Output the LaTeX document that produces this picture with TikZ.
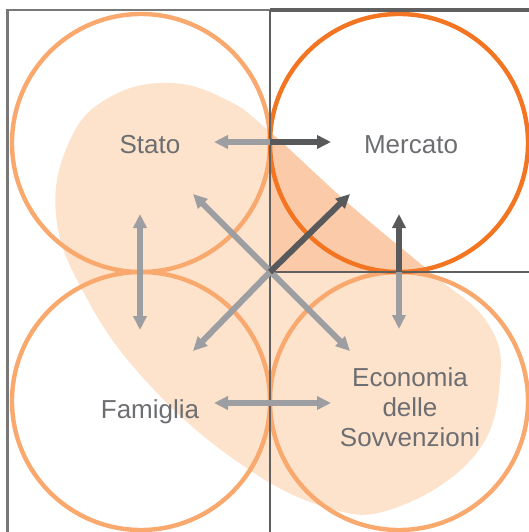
\documentclass[tikz,border=0pt]{standalone}
\usepackage{fontspec}
\setmainfont{Liberation Sans}
\usetikzlibrary{arrows.meta}
\definecolor{circlight}{HTML}{F9A86E}
\definecolor{circdark}{HTML}{F37521}
\definecolor{blobl}{HTML}{FDE2CC}
\definecolor{blobd}{HTML}{FBCBA9}
\definecolor{arrl}{HTML}{9C9EA1}
\definecolor{arrd}{HTML}{58595B}
\definecolor{framec}{HTML}{606060}
\definecolor{txt}{HTML}{6D6E71}
\tikzset{
  ring/.style={line width=4.4pt, draw=circlight},
  ringdark/.style={line width=4.4pt, draw=circdark},
  framel/.style={line width=2.8pt, draw=framec},
  tipped/.style={line width=6pt, -{Triangle[length=14pt,width=13pt]}},
  larr/.style={tipped, draw=arrl, fill=arrl},
  darr/.style={tipped, draw=arrd, fill=arrd},
  lbl/.style={text=txt, font=\fontsize{26}{30}\selectfont, anchor=base, align=center, inner sep=0pt},
}
\newcommand{\blobpath}{plot[smooth cycle, tension=0.7] coordinates {(170,83) (227,100) (270,132) (350,205) (430,272) (487,322) (500,380) (475,455) (395,508) (325,507) (235,460) (145,380) (85,295) (56,215) (70,140) (110,97)}}
\begin{document}
\begin{tikzpicture}[x=1pt,y=-1pt]
\useasboundingbox (0,0) rectangle (529,532);
% blob
\fill[blobl] \blobpath;
\begin{scope}
  \clip (270,10) rectangle (529,272);
  \fill[blobd] \blobpath;
\end{scope}
% circles
\draw[ring] (141,143) circle[radius=129];
\draw[ring] (141,401) circle[radius=129];
\draw[ring] (399,401) circle[radius=129];
\draw[ringdark] (399,143) circle[radius=129];
% frame
\coordinate (tl) at (7.5,10);
\coordinate (tm) at (270,10);
\coordinate (tr) at (530,10);
\coordinate (bl) at (7.5,533);
\coordinate (bm) at (270,533);
\coordinate (c) at (270,272);
\coordinate (cr) at (530,272);
\draw[framel, draw=framec!85, line width=2.4pt] (bl) -- (tl) -- (tm);
\draw[framel, line width=3.2pt] (tm) -- (tr);
\draw[framel] (tm) -- (bm);
\draw[framel] (c) -- (cr);
% arrow tips
\coordinate (jt) at (270,142);
\coordinate (ts) at (214,142);
\coordinate (tmk) at (331,142);
\coordinate (lu) at (140,214);
\coordinate (ld) at (140,330);
\coordinate (jr) at (399,272);
\coordinate (ru) at (399,214);
\coordinate (rd) at (399,329);
\coordinate (bls) at (214,403);
\coordinate (brs) at (331,403);
\coordinate (dul) at (193,194);
\coordinate (dur) at (350,194);
\coordinate (ddl) at (193,351);
\coordinate (ddr) at (350,351);
% arrows
\draw[larr] (jt) -- (ts);
\draw[darr] (jt) -- (tmk);
\draw[larr, {Triangle[length=14pt,width=13pt]}-{Triangle[length=14pt,width=13pt]}] (lu) -- (ld);
\draw[larr] (jr) -- (rd);
\draw[darr] (jr) -- (ru);
\draw[larr, {Triangle[length=14pt,width=13pt]}-{Triangle[length=14pt,width=13pt]}] (bls) -- (brs);
\draw[larr, {Triangle[length=14pt,width=13pt]}-{Triangle[length=14pt,width=13pt]}] (dul) -- (ddr);
\draw[larr] (c) -- (ddl);
\draw[darr] (c) -- (dur);
% labels
\node[lbl] (stato) at (150,153) {Stato};
\node[lbl] (mercato) at (411,153) {Mercato};
\node[lbl] (famiglia) at (150,418) {Famiglia};
\node[lbl] (econ) at (410,446) {Economia\\delle\\Sovvenzioni};
\end{tikzpicture}
\end{document}
